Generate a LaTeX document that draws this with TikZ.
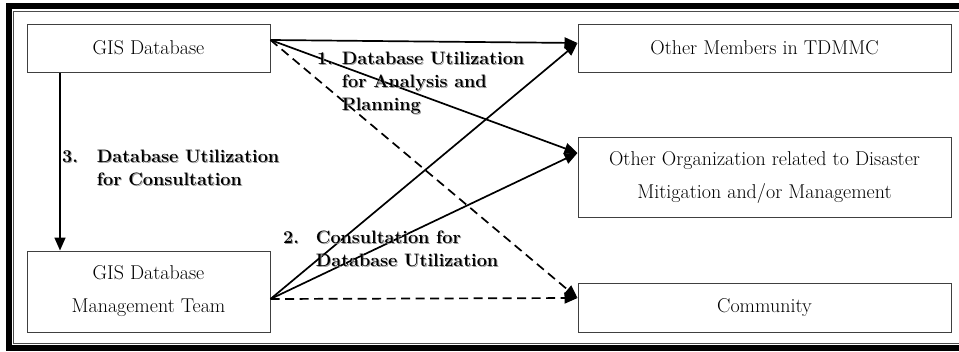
\documentclass[tikz,border=0pt]{standalone}
\usetikzlibrary{arrows.meta,positioning}

\tikzset{
  x=1pt, y=-1pt,
  box/.style={draw=black!75, line width=1pt, rectangle, inner sep=0pt,
    align=center, font=\fontsize{20}{33}\selectfont},
  link/.style={line width=1.7pt, -{Triangle[length=13pt,width=11pt]}},
  dlink/.style={link, dash pattern=on 9pt off 5.5pt},
  lbl/.style={anchor=north west, inner sep=0pt, align=left,
    font=\bfseries\fontsize{18}{23}\selectfont},
  lblshadow/.style={lbl, text=black!40},
}

% numbered bold caption: number, then hanging lines
\newcommand{\steplabel}[3]{%
  \begin{tabular}{@{}l@{\hspace{#2}}l@{}}#1 & #3\end{tabular}}

\begin{document}
\begin{tikzpicture}
\useasboundingbox (0,0) rectangle (959,351);

% double frame, open on the right
\draw[line width=5.5pt] (959,6) -- (8.75,6) -- (8.75,348) -- (959,348);
\draw[line width=0.9pt, black!70] (959,11.5) -- (13.5,11.5) -- (13.5,343.5) -- (959,343.5);

% boxes
\node[box, minimum width=243pt, minimum height=48pt] (gisdb) at (148.5,48) {GIS Database};
\node[box, minimum width=243pt, minimum height=81pt] (team) at (148.5,291.5) {GIS Database\\Management Team};
\node[box, minimum width=373pt, minimum height=48pt] (members) at (764.5,48) {Other Members in TDMMC};
\node[box, minimum width=373pt, minimum height=80pt] (org) at (764.5,177) {Other Organization related to Disaster\\Mitigation and/or Management};
\node[box, minimum width=373pt, minimum height=49pt] (community) at (764.5,307.5) {Community};

% exit / entry points on the boxes
\coordinate (dbout) at ([yshift=8pt]gisdb.east);
\coordinate (teamout) at ([yshift=-7.5pt]team.east);
\coordinate (memin) at ([yshift=5pt]members.west);
\coordinate (orgin) at ([yshift=24pt]org.west);
\coordinate (comin) at ([yshift=9.5pt]community.west);

% connectors
\draw[link] ([xshift=-88.5pt]gisdb.south) -- ([xshift=-88.5pt]team.north);
\draw[link] (dbout) -- (memin);
\draw[link] (dbout) -- (orgin);
\draw[dlink] (dbout) -- (comin);
\draw[link] (teamout) -- (memin);
\draw[link] (teamout) -- (orgin);
\draw[dlink] (teamout) -- (comin);

% captions (with soft drop shadow)
\foreach \s/\st in {1/lblshadow, 0/lbl}{
  \node[\st] (cap1\s) at (317+\s,48+\s)
    {\steplabel{1.}{9pt}{Database Utilization\\ & for Analysis and\\ & Planning}};
  \node[\st] (cap3\s) at (62+\s,146+\s)
    {\steplabel{3.}{19pt}{Database Utilization\\ & for Consultation}};
  \node[\st] (cap2\s) at (283+\s,227+\s)
    {\steplabel{2.}{17pt}{Consultation for\\ & Database Utilization}};
}
\end{tikzpicture}
\end{document}
